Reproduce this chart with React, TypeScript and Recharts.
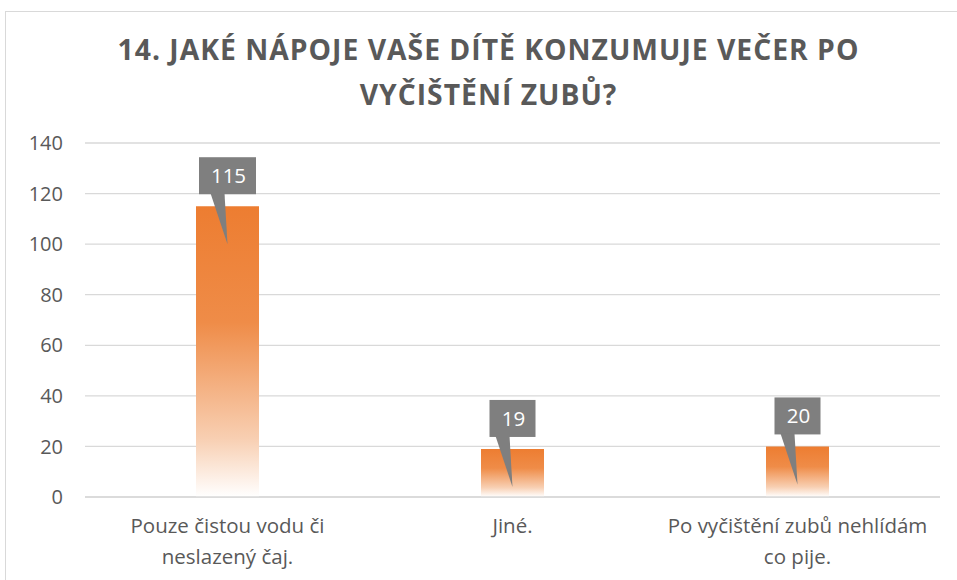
import { Bar, BarChart, CartesianGrid, LabelList, XAxis, YAxis } from "recharts";

const kategorie = ["Pouze čistou vodu či neslazený čaj.", "Jiné.", "Po vyčištění zubů nehlídám co pije."];
const radkyPopisku = [
    ["Pouze čistou vodu či", "neslazený čaj."],
    ["Jiné."],
    ["Po vyčištění zubů nehlídám", "co pije."],
];
const hodnoty = [115, 19, 20];
const tickyY = [0, 20, 40, 60, 80, 100, 120, 140];

const data = kategorie.map((nazev, i) => ({ nazev, pocet: hodnoty[i], i }));

const FONT = "'Open Sans', sans-serif";
const SEDA = "#595959";

function PopisekX(props: any) {
    const { x, y, payload } = props;
    const radky = radkyPopisku[payload.index] ?? [payload.value];
    return (
        <g>
            {radky.map((r: string, k: number) => (
                <text key={k} x={x} y={y + 28 + k * 31} textAnchor="middle" fill={SEDA} fontSize={20.5} fontFamily={FONT}>
                    {r}
                </text>
            ))}
        </g>
    );
}

function Bublina(props: any) {
    const { x, y, width, value } = props;
    const cx = x + width / 2;
    const text = String(value);
    const w = text.length * 11 + 24;
    const h = 37;
    const spodek = y - 12;
    const vrch = spodek - h;
    const levy = cx - w / 2;
    return (
        <g>
            <rect x={levy} y={vrch} width={w} height={h} fill="#7F7F7F" />
            <polygon points={`${cx - 17},${spodek - 1} ${cx - 3},${spodek - 1} ${cx},${y + 38}`} fill="#7F7F7F" />
            <text x={cx + 1} y={vrch + 26} textAnchor="middle" fill="#fff" fontSize={20.5} fontFamily={FONT}>
                {text}
            </text>
        </g>
    );
}

export default function App() {
    return (
        <div style={{ position: "absolute", left: 0, top: 0, width: 957, height: 580, background: "#fff", overflow: "hidden", fontFamily: FONT }}>
            <div style={{ position: "absolute", left: 5, top: 11, width: 960, height: 600, border: "1.5px solid #d9d9d9", boxSizing: "border-box" }} />
            <div style={{ position: "absolute", left: 10, top: 27, width: 957, textAlign: "center", color: SEDA, fontWeight: 700, fontSize: 28.3, lineHeight: "45px", letterSpacing: 1 }}>
                14. JAKÉ NÁPOJE VAŠE DÍTĚ KONZUMUJE VEČER PO
                <br />
                VYČIŠTĚNÍ ZUBŮ?
            </div>
            <div style={{ position: "absolute", left: 0, top: 0 }}>
                <BarChart width={957} height={580} data={data} margin={{ top: 143, right: 17, left: 25, bottom: 0 }} barSize={63}>
                    <defs>
                        <linearGradient id="oranzova" x1="0" y1="0" x2="0" y2="1">
                            <stop offset="0" stopColor="#ED7D31" />
                            <stop offset="0.4" stopColor="#EF8C48" />
                            <stop offset="0.8" stopColor="#F8CFB2" />
                            <stop offset="1" stopColor="#FFFFFF" />
                        </linearGradient>
                    </defs>
                    <CartesianGrid vertical={false} stroke="#d9d9d9" strokeWidth={1.3} />
                    <XAxis dataKey="nazev" height={83} axisLine={{ stroke: "#d9d9d9", strokeWidth: 1.3 }} tickLine={false} tick={<PopisekX />} interval={0} />
                    <YAxis width={60} domain={[0, 140]} ticks={tickyY} axisLine={false} tickLine={false} tickSize={0} tickMargin={22}
                        tick={{ fill: SEDA, fontSize: 20, fontFamily: FONT }} />
                    <Bar dataKey="pocet" fill="url(#oranzova)" isAnimationActive={false}>
                        <LabelList dataKey="pocet" content={<Bublina />} />
                    </Bar>
                </BarChart>
            </div>
        </div>
    );
}
